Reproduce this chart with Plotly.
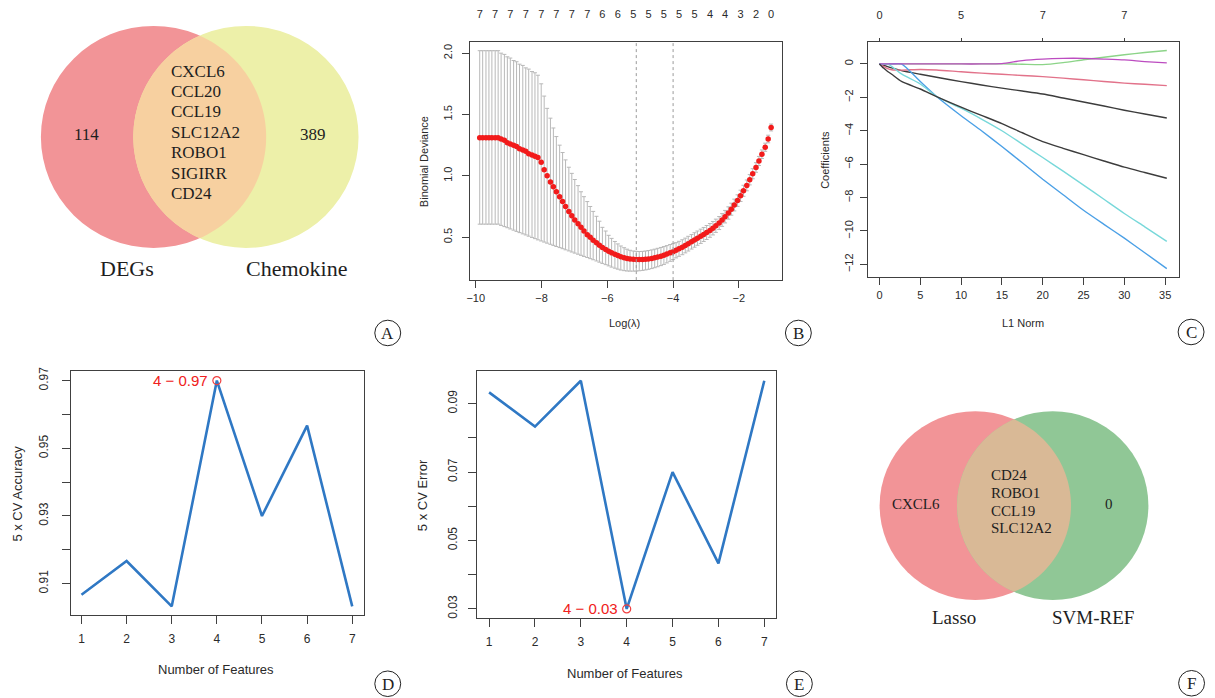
import math
import plotly.graph_objects as go

# reference picture size and page offset of the figure (browser body margin)
REF_W, REF_H = 1215, 698
OFF = 8
W, H = REF_W - OFF, REF_H - OFF

# ---------------- data ----------------
# Panel A : Venn DEGs vs Chemokine
venn_a_sets = ["DEGs", "Chemokine"]
venn_a_unique = ["114", "389"]
venn_a_common = ["CXCL6", "CCL20", "CCL19", "SLC12A2", "ROBO1", "SIGIRR", "CD24"]

# Panel B : cv.glmnet binomial deviance
log_lambda = [-9.88, -9.79, -9.69, -9.60, -9.51, -9.41, -9.32, -9.23, -9.13, -9.04,
              -8.95, -8.85, -8.76, -8.67, -8.57, -8.48, -8.39, -8.29, -8.20, -8.11,
              -8.01, -7.92, -7.83, -7.73, -7.64, -7.55, -7.45, -7.36, -7.27, -7.17,
              -7.08, -6.99, -6.89, -6.80, -6.71, -6.61, -6.52, -6.43, -6.33, -6.24,
              -6.15, -6.05, -5.96, -5.87, -5.77, -5.68, -5.59, -5.49, -5.40, -5.31,
              -5.21, -5.12, -5.03, -4.93, -4.84, -4.75, -4.65, -4.56, -4.47, -4.37,
              -4.28, -4.19, -4.09, -4.00, -3.91, -3.82, -3.72, -3.63, -3.54, -3.44,
              -3.35, -3.26, -3.16, -3.07, -2.98, -2.88, -2.79, -2.70, -2.60, -2.51,
              -2.42, -2.32, -2.23, -2.14, -2.04, -1.95, -1.86, -1.76, -1.67, -1.58,
              -1.48, -1.39, -1.30, -1.20, -1.11, -1.02]
cv_mean = [1.31, 1.31, 1.31, 1.31, 1.31, 1.31, 1.31,
           1.30, 1.29, 1.27, 1.26, 1.25, 1.24, 1.22, 1.21, 1.20, 1.18, 1.17, 1.16, 1.15,
           1.11, 1.05, 1.00, 0.95, 0.91, 0.87, 0.83, 0.79, 0.75, 0.71,
           0.675, 0.64, 0.61, 0.58, 0.55, 0.52, 0.50, 0.475, 0.455, 0.435,
           0.415, 0.40, 0.385, 0.372, 0.36, 0.35, 0.34, 0.333, 0.327, 0.322,
           0.319, 0.317, 0.317, 0.318, 0.320, 0.323, 0.327, 0.332, 0.338, 0.345,
           0.353, 0.362, 0.372, 0.382, 0.393, 0.405, 0.418, 0.432, 0.447, 0.462,
           0.477, 0.492, 0.507, 0.522, 0.538, 0.555, 0.573, 0.593, 0.615, 0.640,
           0.667, 0.697, 0.728, 0.762, 0.798, 0.837, 0.878, 0.922, 0.968, 1.017,
           1.068, 1.121, 1.176, 1.233, 1.30, 1.394]
cv_upper = [2.02, 2.02, 2.02, 2.02, 2.02, 2.02, 2.02,
            2.00, 1.99, 1.97, 1.96, 1.94, 1.93, 1.91, 1.90, 1.88, 1.87, 1.85, 1.84, 1.82,
            1.75, 1.65, 1.55, 1.47, 1.39, 1.32, 1.25, 1.19, 1.13, 1.07,
            1.02, 0.97, 0.92, 0.87, 0.83, 0.79, 0.75, 0.71, 0.67, 0.63,
            0.58, 0.55, 0.515, 0.49, 0.465, 0.445, 0.428, 0.414, 0.402, 0.393,
            0.387, 0.384, 0.383, 0.384, 0.387, 0.391, 0.396, 0.402, 0.409, 0.416,
            0.423, 0.431, 0.44, 0.447, 0.455, 0.466, 0.479, 0.492, 0.507, 0.521,
            0.536, 0.55, 0.565, 0.579, 0.595, 0.611, 0.628, 0.647, 0.668, 0.692,
            0.718, 0.747, 0.777, 0.81, 0.845, 0.883, 0.923, 0.966, 1.01, 1.058,
            1.107, 1.158, 1.211, 1.266, 1.331, 1.422]
cv_lower = [0.606, 0.606, 0.606, 0.606, 0.606, 0.606, 0.606,
            0.596, 0.586, 0.577, 0.567, 0.557, 0.547, 0.537, 0.527, 0.518, 0.508, 0.498, 0.488, 0.478,
            0.469, 0.46, 0.451, 0.442, 0.433, 0.424, 0.415, 0.406, 0.397, 0.388,
            0.379, 0.37, 0.361, 0.352, 0.343, 0.334, 0.325, 0.316, 0.306, 0.296,
            0.286, 0.276, 0.266, 0.256, 0.247, 0.239, 0.232, 0.227, 0.224, 0.223,
            0.223, 0.224, 0.226, 0.229, 0.233, 0.238, 0.244, 0.251, 0.259, 0.268,
            0.278, 0.29, 0.303, 0.317, 0.331, 0.344, 0.357, 0.372, 0.387, 0.403,
            0.418, 0.434, 0.449, 0.465, 0.481, 0.499, 0.518, 0.539, 0.562, 0.588,
            0.616, 0.647, 0.679, 0.714, 0.751, 0.791, 0.833, 0.878, 0.926, 0.976,
            1.029, 1.084, 1.141, 1.20, 1.269, 1.366]
nz_top_labels = ["7", "7", "7", "7", "7", "7", "7", "7", "6", "6",
                 "5", "5", "5", "5", "5", "4", "4", "3", "2", "0"]
idx_lambda_min, idx_lambda_1se = 51, 63
b_yticks = [0.5, 1.0, 1.5, 2.0]
b_yticktext = ["0.5", "1.0", "1.5", "2.0"]
b_xticks = [-10, -8, -6, -4, -2]

# Panel C : coefficient paths vs L1 norm
l1_norm = [0, 0.5, 1, 1.5, 2.7, 5, 7, 10, 12.5, 15, 17.5, 20, 22.5, 25, 27.5, 30, 32.5, 35.2]
coef_paths = [
    [0, -0.08, -0.16, -0.24, -0.40, -0.62, -0.80, -1.06, -1.26, -1.45, -1.62, -1.80, -2.04, -2.28, -2.52, -2.77, -3.00, -3.24],
    [0, -0.15, -0.28, -0.35, -0.37, -0.33, -0.36, -0.47, -0.55, -0.62, -0.69, -0.76, -0.85, -0.95, -1.05, -1.15, -1.22, -1.30],
    [0, 0, 0, 0, 0, 0, 0, 0, 0, 0, -0.02, -0.04, 0.08, 0.25, 0.40, 0.55, 0.68, 0.80],
    [0, 0, 0, 0, 0, -1.05, -1.95, -3.10, -4.00, -4.94, -5.92, -6.90, -7.83, -8.76, -9.60, -10.43, -11.30, -12.25],
    [0, 0, 0, -0.15, -0.60, -1.20, -1.95, -2.65, -3.30, -4.00, -4.80, -5.60, -6.42, -7.25, -8.10, -8.95, -9.75, -10.62],
    [0, 0, 0, 0, 0, 0, 0, 0, 0, 0.02, 0.20, 0.29, 0.33, 0.33, 0.29, 0.24, 0.14, 0.06],
    [0, -0.25, -0.45, -0.62, -1.05, -1.50, -1.96, -2.59, -3.08, -3.57, -4.12, -4.65, -5.05, -5.43, -5.81, -6.18, -6.50, -6.84],
]
coef_colors = ["#3c3c3c", "#E2728A", "#8CD488", "#4BA0E6", "#78D8DA", "#BC4CC0", "#3c3c3c"]
c_xticks = [0, 5, 10, 15, 20, 25, 30, 35]
c_yticks = [0, -2, -4, -6, -8, -10, -12]
c_top_ticks = [0, 10, 20, 30]
c_top_labels = ["0", "5", "7", "7"]

# Panels D / E : SVM-RFE
n_features = [1, 2, 3, 4, 5, 6, 7]
cv_accuracy = [0.9067, 0.9167, 0.9033, 0.97, 0.93, 0.9567, 0.9033]
cv_error = [0.0933, 0.0833, 0.0967, 0.03, 0.07, 0.0433, 0.0967]
d_yticks = [0.91, 0.92, 0.93, 0.94, 0.95, 0.96, 0.97]
d_yticktext = ["0.91", "", "0.93", "", "0.95", "", "0.97"]
e_yticks = [0.03, 0.04, 0.05, 0.06, 0.07, 0.08, 0.09]
e_yticktext = ["0.03", "", "0.05", "", "0.07", "", "0.09"]
best_n = 4

# Panel F : Venn Lasso vs SVM-REF
venn_f_sets = ["Lasso", "SVM-REF"]
venn_f_unique = ["CXCL6", "0"]
venn_f_common = ["CD24", "ROBO1", "CCL19", "SLC12A2"]

panel_letters = ["A", "B", "C", "D", "E", "F"]

# ---------------- styling helpers ----------------
SANS = "Liberation Sans, Arial, sans-serif"
SERIF = "Liberation Serif, Times New Roman, serif"
TXT = "#2a2a2a"
LINE = "#404040"


def dom_x(left, right):
    return [(left - OFF) / W, (right - OFF) / W]


def dom_y(top, bottom):
    return [1 - (bottom - OFF) / H, 1 - (top - OFF) / H]


def axis(**kw):
    base = dict(showline=True, linecolor=LINE, linewidth=1, mirror=True,
                ticks="outside", ticklen=7, tickcolor=LINE, tickwidth=1,
                showgrid=False, zeroline=False,
                tickfont=dict(family=SANS, size=11, color=TXT))
    base.update(kw)
    return base


fig = go.Figure()
shapes = []
annotations = []

# invisible page axis in reference pixel coordinates (Venn diagrams, labels)
fig.add_trace(go.Scatter(x=[OFF], y=[OFF], xaxis="x7", yaxis="y7", mode="markers",
                         marker=dict(opacity=0), hoverinfo="skip", showlegend=False))

# ---------- Panel B ----------
err_plus = [u - m for u, m in zip(cv_upper, cv_mean)]
err_minus = [m - l for m, l in zip(cv_mean, cv_lower)]
fig.add_trace(go.Scatter(
    x=log_lambda, y=cv_mean, mode="markers", xaxis="x2", yaxis="y2",
    marker=dict(color="#F21B1B", size=5.5, line=dict(width=0)),
    error_y=dict(type="data", symmetric=False, array=err_plus, arrayminus=err_minus,
                 color="#B8B8B8", thickness=1, width=2),
    showlegend=False))
fig.add_trace(go.Scatter(x=[log_lambda[0]], y=[cv_mean[0]], xaxis="x3", yaxis="y2",
                         mode="markers", marker=dict(opacity=0), hoverinfo="skip",
                         showlegend=False))
for idx in (idx_lambda_min, idx_lambda_1se):
    shapes.append(dict(type="line", xref="x2", yref="y2 domain",
                       x0=log_lambda[idx], x1=log_lambda[idx], y0=0, y1=1,
                       line=dict(color="#9a9a9a", width=1, dash="dot")))

# ---------- Panel C ----------
for path, col in zip(coef_paths, coef_colors):
    fig.add_trace(go.Scatter(x=l1_norm, y=path, mode="lines", xaxis="x4", yaxis="y4",
                             line=dict(color=col, width=1.4, shape="spline", smoothing=0.6),
                             showlegend=False))
fig.add_trace(go.Scatter(x=[0], y=[0], xaxis="x5", yaxis="y4", mode="markers",
                         marker=dict(opacity=0), hoverinfo="skip", showlegend=False))

# ---------- Panel D ----------
BLUE = "#2F78C4"
fig.add_trace(go.Scatter(x=n_features, y=cv_accuracy, mode="lines", xaxis="x", yaxis="y",
                         line=dict(color=BLUE, width=2.6), showlegend=False))
ib = n_features.index(best_n)
fig.add_trace(go.Scatter(x=[best_n], y=[cv_accuracy[ib]], mode="markers", xaxis="x", yaxis="y",
                         marker=dict(symbol="circle-open", color="#F04040", size=8,
                                     line=dict(width=1.2)), showlegend=False))
annotations.append(dict(xref="x", yref="y", x=best_n, y=cv_accuracy[ib],
                        text=f"{best_n} \u2212 {cv_accuracy[ib]:.2f}", showarrow=False,
                        xanchor="right", yanchor="middle", xshift=-7,
                        font=dict(family=SANS, size=15, color="#F02020")))

# ---------- Panel E ----------
fig.add_trace(go.Scatter(x=n_features, y=cv_error, mode="lines", xaxis="x6", yaxis="y6",
                         line=dict(color=BLUE, width=2.6), showlegend=False))
fig.add_trace(go.Scatter(x=[best_n], y=[cv_error[ib]], mode="markers", xaxis="x6", yaxis="y6",
                         marker=dict(symbol="circle-open", color="#F04040", size=8,
                                     line=dict(width=1.2)), showlegend=False))
annotations.append(dict(xref="x6", yref="y6", x=best_n, y=cv_error[ib],
                        text=f"{best_n} \u2212 {cv_error[ib]:.2f}", showarrow=False,
                        xanchor="right", yanchor="middle", xshift=-7,
                        font=dict(family=SANS, size=15, color="#F02020")))


# ---------- Venn helpers ----------
def circle(cx, cy, r, color):
    return dict(type="circle", xref="x7", yref="y7", x0=cx - r, x1=cx + r,
                y0=cy - r, y1=cy + r, fillcolor=color, line=dict(width=0), layer="below")


def lens(x1, x2, cy, r, color, n=60):
    a = (x2 - x1) / 2.0
    th = math.acos(a / r)
    pts = []
    for k in range(n + 1):
        t = -th + 2 * th * k / n
        pts.append((x1 + r * math.cos(t), cy + r * math.sin(t)))
    for k in range(n + 1):
        t = math.pi - th + 2 * th * k / n
        pts.append((x2 + r * math.cos(t), cy + r * math.sin(t)))
    d = "M " + " L ".join(f"{px:.2f},{py:.2f}" for px, py in pts) + " Z"
    return dict(type="path", xref="x7", yref="y7", path=d, fillcolor=color,
                line=dict(width=0), layer="below")


def txt(x, y, s, size, xanchor="center"):
    return dict(xref="x7", yref="y7", x=x, y=y, text=s, showarrow=False,
                xanchor=xanchor, yanchor="middle",
                font=dict(family=SERIF, size=size, color="#1e1e1e"))


# ---------- Panel A Venn ----------
ra = 113
ax1, ax2, acy = 150, 242.7, 127
shapes += [circle(ax1, acy, ra, "#F29497"), circle(ax2, acy, ra, "#EDF0A9"),
           lens(ax1, ax2, acy, ra, "#F7D0A0")]
annotations.append(txt(83, 125, venn_a_unique[0], 17))
annotations.append(txt(310, 125, venn_a_unique[1], 17))
for i, g in enumerate(venn_a_common):
    annotations.append(txt(166, 60 + i * 20.8, g, 17, "left"))
annotations.append(txt(123, 261, venn_a_sets[0], 22))
annotations.append(txt(293, 261, venn_a_sets[1], 22))

# ---------- Panel F Venn ----------
rf = 96
fx1, fx2, fcy = 974.5, 1052.2, 502.2
shapes += [circle(fx1, fcy, rf, "#F29497"), circle(fx2, fcy, rf, "#90C796"),
           lens(fx1, fx2, fcy, rf, "#D9B996")]
annotations.append(txt(915, 500.5, venn_f_unique[0], 15))
annotations.append(txt(1109, 500.5, venn_f_unique[1], 15))
for i, g in enumerate(venn_f_common):
    annotations.append(txt(988, 471.5 + i * 17.9, g, 15, "left"))
annotations.append(txt(953, 616, venn_f_sets[0], 19))
annotations.append(txt(1093, 616, venn_f_sets[1], 19))

# ---------- panel letters ----------
letter_pos = [(385, 326.5), (797, 326.5), (1191, 325.5), (385, 683.5), (798, 683.5), (1191.5, 683)]
for L, (lx, ly) in zip(panel_letters, letter_pos):
    shapes.append(dict(type="circle", xref="x7", yref="y7", x0=lx - 13, x1=lx + 13,
                       y0=ly - 13, y1=ly + 13, line=dict(color="#222", width=1),
                       fillcolor="rgba(0,0,0,0)"))
    annotations.append(dict(xref="x7", yref="y7", x=lx, y=ly + 0.5, text=L, showarrow=False,
                            xanchor="center", yanchor="middle",
                            font=dict(family=SERIF, size=17, color="#222")))


# ---------- axis titles ----------
def title(x, y, s, size, angle=0):
    return dict(xref="x7", yref="y7", x=x, y=y, text=s, showarrow=False, textangle=angle,
                xanchor="center", yanchor="middle",
                font=dict(family=SANS, size=size, color=TXT))


annotations += [
    title(623, 316, "Log(\u03bb)", 11),
    title(421, 152, "Binomial Deviance", 11, -90),
    title(1022, 316, "L1 Norm", 11),
    title(823, 150, "Coefficients", 11, -90),
    title(213, 669, "Number of Features", 13),
    title(14, 490, "5 x CV Accuracy", 13, -90),
    title(623, 673, "Number of Features", 13),
    title(420, 492, "5 x CV Error", 13, -90),
]

# ---------- layout ----------
fig.update_layout(
    width=W, height=H, margin=dict(l=0, r=0, t=0, b=0),
    paper_bgcolor="white", plot_bgcolor="rgba(0,0,0,0)", showlegend=False,
    # D
    xaxis=axis(domain=dom_x(66.7, 360.7), range=[0.757, 7.25], anchor="y",
               tickvals=n_features, ticklen=8, ticklabelstandoff=4,
               tickfont=dict(family=SANS, size=12, color=TXT)),
    yaxis=axis(domain=dom_y(365.7, 614), range=[0.9006, 0.9727], anchor="x",
               tickvals=d_yticks, ticktext=d_yticktext, tickangle=-90, ticklen=8,
               ticklabelstandoff=9,
               tickfont=dict(family=SANS, size=12, color=TXT)),
    # B
    xaxis2=axis(domain=dom_x(467.7, 781), range=[-10.17, -0.676], anchor="y2",
                tickvals=b_xticks, ticklabelstandoff=1),
    yaxis2=axis(domain=dom_y(30, 272.7), range=[0.15, 2.094], anchor="x2",
                tickvals=b_yticks, ticktext=b_yticktext, tickangle=-90,
                ticklabelstandoff=6),
    xaxis3=dict(overlaying="x2", side="top", anchor="y2", range=[-10.17, -0.676],
                tickvals=log_lambda[::5], ticktext=nz_top_labels, ticks="",
                showline=False, showgrid=False, zeroline=False, ticklabelstandoff=20,
                tickfont=dict(family=SANS, size=11, color=TXT)),
    # C
    xaxis4=axis(domain=dom_x(866.7, 1179), range=[-1.42, 36.71], anchor="y4",
                tickvals=c_xticks),
    yaxis4=axis(domain=dom_y(30, 270), range=[-12.78, 1.335], anchor="x4",
                tickvals=c_yticks, tickangle=-90, ticklabelstandoff=2),
    xaxis5=dict(overlaying="x4", side="top", anchor="y4", range=[-1.42, 36.71],
                tickvals=c_top_ticks, ticktext=c_top_labels, ticks="outside", ticklen=3,
                tickcolor=LINE, showline=False, showgrid=False, zeroline=False,
                ticklabelstandoff=14,
                tickfont=dict(family=SANS, size=11, color=TXT)),
    # E
    xaxis6=axis(domain=dom_x(475, 774.3), range=[0.746, 7.25], anchor="y6",
                tickvals=n_features, ticklen=8, ticklabelstandoff=4,
                tickfont=dict(family=SANS, size=12, color=TXT)),
    yaxis6=axis(domain=dom_y(365, 616.7), range=[0.0273, 0.0996], anchor="x6",
                tickvals=e_yticks, ticktext=e_yticktext, tickangle=-90, ticklen=8,
                ticklabelstandoff=7,
                tickfont=dict(family=SANS, size=12, color=TXT)),
    # page axis (reference pixel coordinates)
    xaxis7=dict(domain=[0, 1], range=[OFF, REF_W], anchor="y7", visible=False, fixedrange=True),
    yaxis7=dict(domain=[0, 1], range=[REF_H, OFF], anchor="x7", visible=False, fixedrange=True),
    shapes=shapes,
    annotations=annotations,
)

fig.write_html("out.html")
